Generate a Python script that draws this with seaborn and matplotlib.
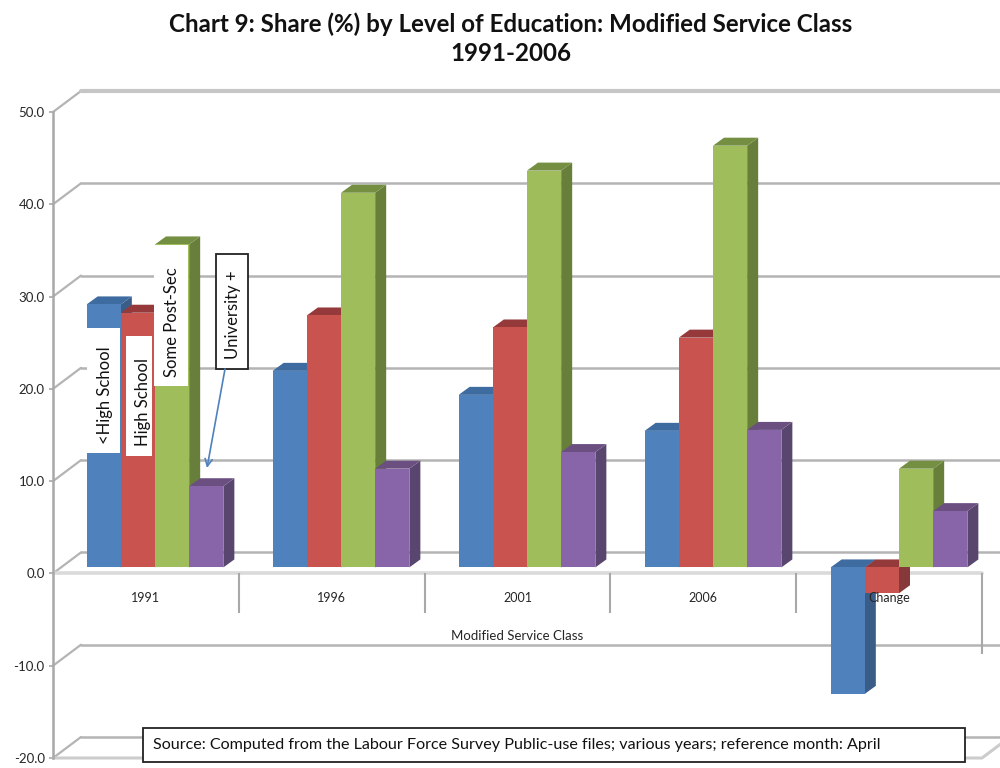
import matplotlib
matplotlib.use("Agg")
import matplotlib.pyplot as plt
from matplotlib.patches import Polygon, Rectangle
import pandas as pd
import seaborn as sns

# ---------- data ----------
categories = ["1991", "1996", "2001", "2006", "Change"]
series_names = ["<High School", "High School", "Some Post-Sec", "University +"]
high_school_less = [28.5, 21.3, 18.7, 14.8, -13.7]
high_school = [27.6, 27.3, 26.0, 24.9, -2.8]
some_post_sec = [35.0, 40.6, 43.0, 45.7, 10.7]
university = [8.8, 10.7, 12.5, 14.9, 6.1]
y_ticks = [-20, -10, 0, 10, 20, 30, 40, 50]
y_labels = ["-20.0", "-10.0", "0.0", "10.0", "20.0", "30.0", "40.0", "50.0"]
x_title = "Modified Service Class"
title = "Chart 9: Share (%) by Level of Education: Modified Service Class\n1991-2006"
source = "Source: Computed from the Labour Force Survey Public-use files; various years; reference month: April"

front_colors = ["#4F81BD", "#C9544F", "#9FBE5B", "#8864A8"]
side_colors = ["#3A5D88", "#87383A", "#677F3B", "#59466F"]
top_colors = ["#3E6BA0", "#95393A", "#748F42", "#6A4F80"]

frames = [pd.DataFrame({"cat": categories, "series": n, "value": v})
          for n, v in zip(series_names,
                          [high_school_less, high_school, some_post_sec, university])]
df = pd.concat(frames, ignore_index=True)

# ---------- figure ----------
sns.set_theme(style="white")
plt.rcParams["font.family"] = ["Lato", "DejaVu Sans"]
plt.rcParams["axes.unicode_minus"] = False
W, H = 1000, 768
fig = plt.figure(figsize=(W / 100, H / 100), dpi=100, facecolor="white")


def axes_px(left, top, right, bottom, **kw):
    return fig.add_axes([left / W, 1 - bottom / H, (right - left) / W, (bottom - top) / H], **kw)


GRID = "#B4B4B4"
TXT = "#262626"
PX_PER_CAT = 185.8
PX_PER_UNIT = 9.23
wall_dx, wall_dy = 28 / PX_PER_CAT, 21 / PX_PER_UNIT

# wall (gridlines, value axis)
wall = axes_px(53, 112, 1000, 758)
wall.set_xlim(0, 947 / PX_PER_CAT)
wall.set_ylim(-20, 50)
for s in wall.spines.values():
    s.set_visible(False)
wall.spines["left"].set_visible(True)
wall.spines["left"].set_color("#A8A8A8")
wall.spines["left"].set_linewidth(1.8)
wall.set_yticks(y_ticks, y_labels, fontsize=9.5, color=TXT)
wall.tick_params(axis="y", length=3, width=1.2, color="#A8A8A8", pad=3, left=True)
wall.set_xticks([])
xmax = wall.get_xlim()[1]
for v in y_ticks:
    top_line = v == 50
    wall.plot([0, wall_dx], [v, v + wall_dy], color=GRID, lw=1.6, clip_on=False, zorder=1)
    wall.plot([wall_dx, xmax], [v + wall_dy, v + wall_dy], clip_on=False, zorder=1,
              color="#C6C6C6" if top_line else GRID, lw=3 if top_line else 1.8)
wall.plot([0, 5], [0, 0], color="#DADADA", lw=2.6, zorder=1.5)
wall.plot([0, 5, 5 + wall_dx], [-20, -20, -20 + wall_dy], color="#CCCCCC", lw=2.2,
          clip_on=False, zorder=1.5)
wall.vlines(range(1, 5), -4.3, 0, color="#A8A8A8", lw=1.5, zorder=1.5)
wall.vlines([0, 5], -8.7, 0, color="#A8A8A8", lw=1.5, zorder=1.5)

# bars
bars = axes_px(62, 106, 1000, 752)
bars.patch.set_alpha(0)
sns.barplot(data=df, x="cat", y="value", hue="series", order=categories,
            hue_order=series_names, palette=front_colors, saturation=1,
            width=0.735, gap=0, dodge=True, legend=False, ax=bars, linewidth=0)
bars.set_xlim(-0.5, -0.5 + 938 / 186)
bars.set_ylim(-20, 50)
bars.set_xticks([])
bars.set_yticks([])
bars.set_xlabel("")
bars.set_ylabel("")
for s in bars.spines.values():
    s.set_visible(False)

dx, dy = 11 / 186, 8 / PX_PER_UNIT
rects = [p for p in bars.patches if p.get_width() > 0]
hex_to_i = {matplotlib.colors.to_hex(c): i for i, c in enumerate(front_colors)}
for p in sorted(rects, key=lambda r: r.get_x()):
    i = hex_to_i[matplotlib.colors.to_hex(p.get_facecolor())]
    x0, x1 = p.get_x(), p.get_x() + p.get_width()
    lo, hi = sorted([p.get_y(), p.get_y() + p.get_height()])
    rank = 3 + 0.01 * (x0 + 1) * 100
    p.set_zorder(rank + 0.2)
    bars.add_patch(Polygon([(x1, lo), (x1 + dx, lo + dy), (x1 + dx, hi + dy), (x1, hi)],
                           closed=True, fc=side_colors[i], ec="none", zorder=rank, clip_on=False))
    bars.add_patch(Polygon([(x0, hi), (x0 + dx, hi + dy), (x1 + dx, hi + dy), (x1, hi)],
                           closed=True, fc=top_colors[i], ec="none", zorder=rank + 0.1, clip_on=False))

# category labels on top of the bars (axes bottom edge sits on the zero line)
cat_ax = axes_px(53, 112, 1000, 573)
cat_ax.patch.set_alpha(0)
cat_ax.set_ylim(0, 50)
cat_ax.set_yticks([])
for s in cat_ax.spines.values():
    s.set_visible(False)
cat_ax.set_xlim(0, 947 / PX_PER_CAT)
cat_ax.set_xticks([0.5, 1.5, 2.5, 3.5, 4.5], categories, fontsize=9, color=TXT)
cat_ax.tick_params(axis="x", length=0, pad=14)
cat_ax.set_xlabel(x_title, fontsize=9.5, color=TXT)
cat_ax.xaxis.set_label_coords(2.5 * PX_PER_CAT / 947, (573 - 630) / 461)

# annotation overlay in pixel coordinates
over = axes_px(0, 0, W, H)
over.set_xlim(0, W)
over.set_ylim(H, 0)
over.axis("off")
over.patch.set_alpha(0)


def boxed(x0, y0, x1, y1, tx, ty, s, edge="none", rot=90, ha="center", size=12):
    over.add_patch(Rectangle((x0, y0), x1 - x0, y1 - y0, fc="white", ec=edge, lw=1.3, zorder=5))
    over.text(tx, ty, s, rotation=rot, ha=ha, va="center", fontsize=size, color="#111111", zorder=6)


boxed(87, 328, 120, 453, 105, 395, series_names[0])
boxed(126, 336, 152, 456, 143, 402, series_names[1])
boxed(154, 245, 188, 386, 172, 322, series_names[2])
boxed(216, 254, 248, 369, 233, 315, series_names[3], edge="#222222")
over.annotate("", xy=(207, 468), xytext=(225, 369), zorder=5,
              arrowprops=dict(arrowstyle="->", color="#4F81BD", lw=1.2, shrinkA=0, shrinkB=0,
                              mutation_scale=13))
boxed(143, 728, 965, 762, 153, 745, source, edge="#222222", rot=0, ha="left", size=11.62)

over.text(511, 38.5, title, ha="center", va="center", fontsize=17.4, fontweight="bold",
          color="#111111", linespacing=1.33)

fig.savefig("out.png", dpi=100, facecolor="white")
